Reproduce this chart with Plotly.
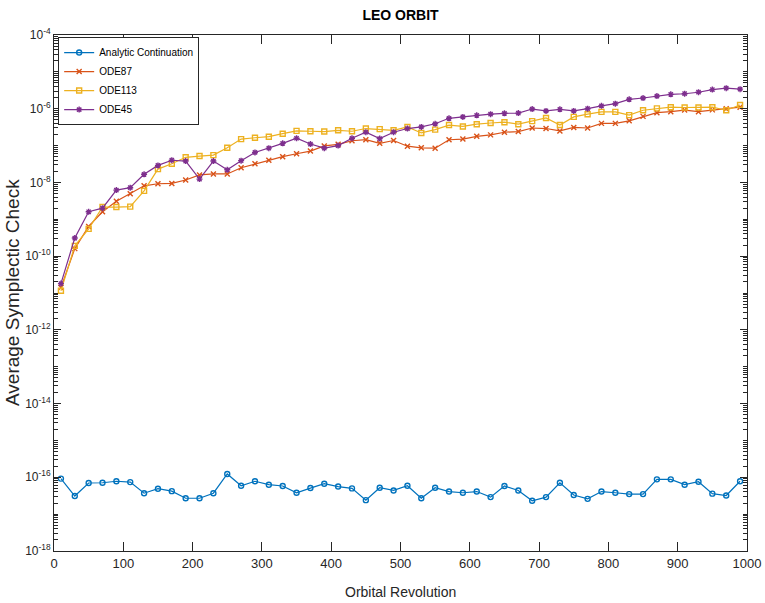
import plotly.graph_objects as go

# Orbital revolution at which each average was taken
revolutions = [10, 30, 50, 70, 90, 110, 130, 150, 170, 190,
               210, 230, 250, 270, 290, 310, 330, 350, 370, 390,
               410, 430, 450, 470, 490, 510, 530, 550, 570, 590,
               610, 630, 650, 670, 690, 710, 730, 750, 770, 790,
               810, 830, 850, 870, 890, 910, 930, 950, 970, 990]

analytic = [9.2e-17, 3.1e-17, 7.0e-17, 7.1e-17, 7.8e-17, 7.4e-17, 3.7e-17, 4.9e-17, 4.2e-17, 2.7e-17,
            2.7e-17, 3.7e-17, 1.23e-16, 5.9e-17, 7.8e-17, 6.3e-17, 5.8e-17, 3.8e-17, 5.1e-17, 6.7e-17,
            5.6e-17, 5.0e-17, 2.4e-17, 5.2e-17, 4.4e-17, 5.9e-17, 2.7e-17, 5.2e-17, 4.1e-17, 3.8e-17,
            4.1e-17, 2.9e-17, 5.8e-17, 4.4e-17, 2.3e-17, 2.9e-17, 7.1e-17, 3.3e-17, 2.6e-17, 4.1e-17,
            3.8e-17, 3.5e-17, 3.5e-17, 8.8e-17, 8.8e-17, 6.3e-17, 7.6e-17, 3.6e-17, 3.2e-17, 7.8e-17]

ode87 = [1.4e-11, 1.6e-10, 6.4e-10, 1.6e-9, 3.1e-9, 4.9e-9, 8.1e-9, 9.2e-9, 9.4e-9, 1.16e-8,
         1.6e-8, 1.7e-8, 1.7e-8, 2.5e-8, 3.2e-8, 4.0e-8, 5.0e-8, 6.0e-8, 7.1e-8, 9.8e-8,
         1.08e-7, 1.35e-7, 1.44e-7, 1.15e-7, 1.37e-7, 9.6e-8, 8.7e-8, 8.5e-8, 1.44e-7, 1.5e-7,
         1.78e-7, 1.95e-7, 2.3e-7, 2.4e-7, 3.0e-7, 2.9e-7, 2.5e-7, 3.1e-7, 3.0e-7, 4.0e-7,
         4.0e-7, 4.7e-7, 6.2e-7, 7.8e-7, 8.3e-7, 9.2e-7, 8.3e-7, 9.3e-7, 1.0e-6, 1.1e-6]

ode113 = [1.15e-11, 1.9e-10, 5.5e-10, 2.15e-9, 2.15e-9, 2.2e-9, 5.9e-9, 2.3e-8, 3.2e-8, 4.8e-8,
          5.2e-8, 5.5e-8, 8.7e-8, 1.5e-7, 1.63e-7, 1.74e-7, 2.1e-7, 2.5e-7, 2.45e-7, 2.4e-7,
          2.6e-7, 2.45e-7, 2.9e-7, 2.8e-7, 2.6e-7, 3.2e-7, 2.2e-7, 2.7e-7, 3.6e-7, 3.3e-7,
          3.8e-7, 4.1e-7, 4.3e-7, 3.8e-7, 4.6e-7, 5.6e-7, 3.6e-7, 6.0e-7, 7.1e-7, 8.2e-7,
          8.2e-7, 6.7e-7, 9.1e-7, 1.02e-6, 1.1e-6, 1.08e-6, 1.08e-6, 1.1e-6, 9.1e-7, 1.26e-6]

ode45 = [1.8e-11, 3.1e-10, 1.6e-9, 2.0e-9, 6.2e-9, 7.2e-9, 1.66e-8, 2.9e-8, 4.0e-8, 3.8e-8,
         1.23e-8, 3.8e-8, 2.2e-8, 3.9e-8, 6.5e-8, 8.5e-8, 1.15e-7, 1.58e-7, 1.1e-7, 8.5e-8,
         1.0e-7, 1.58e-7, 2.3e-7, 1.55e-7, 2.3e-7, 2.9e-7, 3.2e-7, 3.9e-7, 5.5e-7, 6.0e-7,
         6.6e-7, 7.1e-7, 7.5e-7, 7.6e-7, 9.8e-7, 8.7e-7, 9.6e-7, 8.7e-7, 1.0e-6, 1.2e-6,
         1.37e-6, 1.8e-6, 1.95e-6, 2.2e-6, 2.45e-6, 2.55e-6, 2.8e-6, 3.3e-6, 3.6e-6, 3.4e-6]

x_ticks = [0, 100, 200, 300, 400, 500, 600, 700, 800, 900, 1000]
y_exponents = [-18, -16, -14, -12, -10, -8, -6, -4]

FONT = "Liberation Sans, Arial, sans-serif"
AXIS_COLOR = "#262626"

series = [
    ("Analytic Continuation", analytic, "#0072BD", "circle-open", 5),
    ("ODE87", ode87, "#D95319", "x-thin-open", 5),
    ("ODE113", ode113, "#EDB120", "square-open", 5),
    ("ODE45", ode45, "#7E2F8E", "asterisk-open", 5),
]

fig = go.Figure()
for name, vals, color, symbol, size in series:
    fig.add_trace(go.Scatter(
        x=revolutions, y=vals, name=name, mode="lines+markers",
        line=dict(color=color, width=1.2),
        marker=dict(symbol=symbol, size=size, color=color,
                    line=dict(color=color, width=1.4)),
    ))

# minor ticks at 2..9 of every decade, plus the unlabeled odd decades
minor_vals = []
for e in range(-18, -4):
    for m in range(1, 10):
        if m == 1 and e % 2 == 0:
            continue
        minor_vals.append(m * 10.0 ** e)

fig.update_layout(
    width=765, height=603,
    margin=dict(l=54, r=18, t=35, b=52),
    paper_bgcolor="white", plot_bgcolor="white",
    font=dict(family=FONT, size=13, color=AXIS_COLOR),
    title=dict(text="<b>LEO ORBIT</b>", x=0.5, xanchor="center", xref="paper",
               y=0.975, yanchor="middle",
               font=dict(family=FONT, size=14, color="black")),
    showlegend=True,
    legend=dict(x=0.006, y=0.996, xanchor="left", yanchor="top",
                bgcolor="white", bordercolor=AXIS_COLOR, borderwidth=1,
                font=dict(family=FONT, size=10, color="black"),
                tracegroupgap=0, itemwidth=30),
    xaxis=dict(
        range=[0, 1000], tickmode="array", tickvals=x_ticks,
        ticks="inside", ticklen=9, tickwidth=1, tickcolor=AXIS_COLOR,
        showline=True, linecolor=AXIS_COLOR, linewidth=1, mirror="ticks",
        showgrid=False, zeroline=False, automargin=False,
        tickfont=dict(family=FONT, size=13, color=AXIS_COLOR),
    ),
    yaxis=dict(
        type="log", range=[-18, -4], tickmode="array",
        tickvals=[10.0 ** e for e in y_exponents],
        ticktext=["10<sup>%d</sup>" % e for e in y_exponents],
        ticks="inside", ticklen=7, tickwidth=1, tickcolor=AXIS_COLOR,
        minor=dict(tickmode="array", tickvals=minor_vals, ticks="inside",
                   ticklen=4, tickwidth=1, tickcolor=AXIS_COLOR, showgrid=False),
        showline=True, linecolor=AXIS_COLOR, linewidth=1, mirror="ticks",
        showgrid=False, zeroline=False, automargin=False,
        ticklabelstandoff=0,
        tickfont=dict(family=FONT, size=12, color=AXIS_COLOR),
    ),
    annotations=[
        dict(text="Orbital Revolution", xref="paper", yref="paper",
             x=0.5, y=0, yshift=-41, xanchor="center", yanchor="middle",
             showarrow=False, font=dict(family=FONT, size=14, color=AXIS_COLOR)),
        dict(text="Average Symplectic Check", xref="paper", yref="paper",
             x=0, y=0.5, xshift=-42, xanchor="center", yanchor="middle",
             textangle=-90, showarrow=False,
             font=dict(family=FONT, size=19, color=AXIS_COLOR)),
    ],
)

fig.write_html("out.html")
